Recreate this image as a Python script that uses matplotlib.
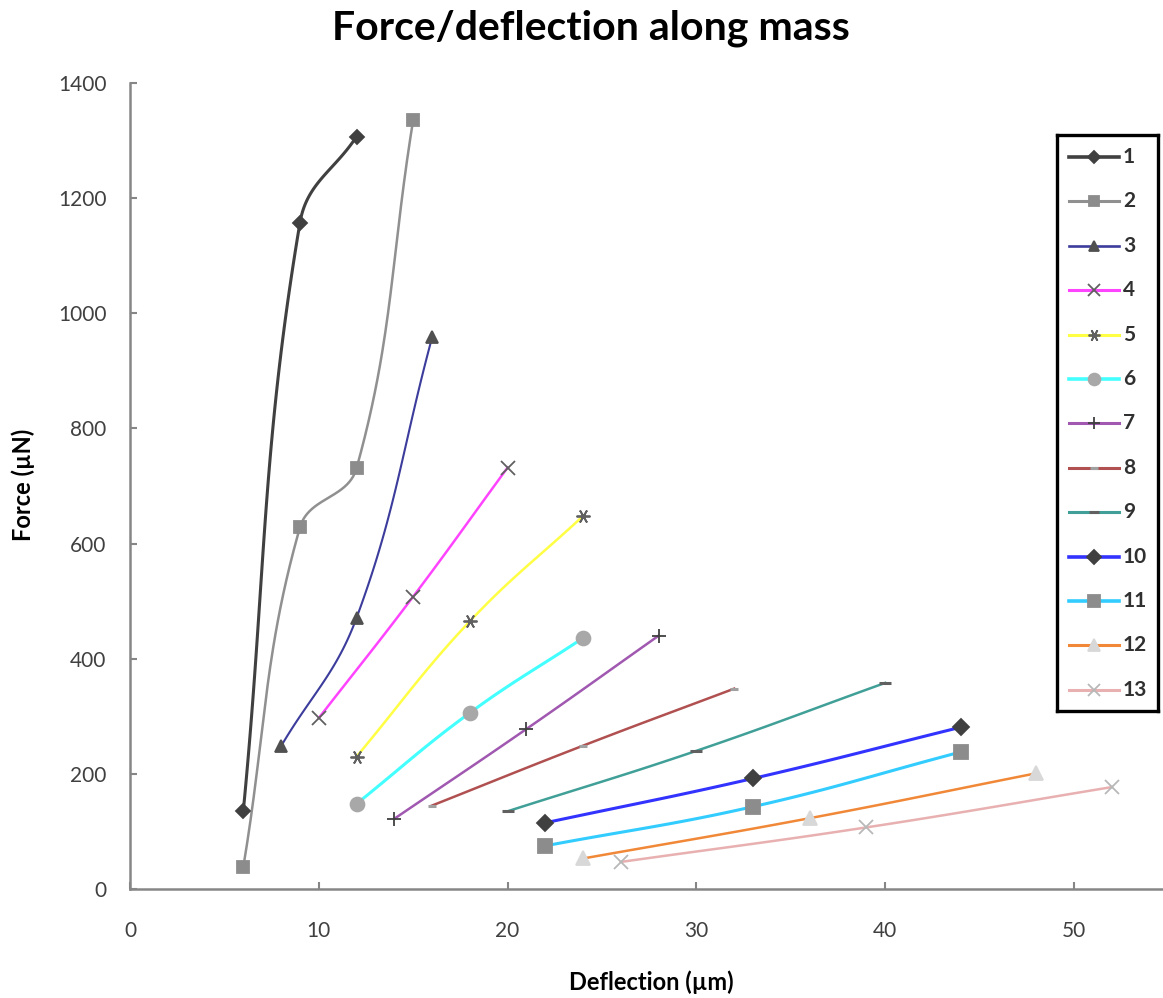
import numpy as np
import matplotlib
matplotlib.use("Agg")
import matplotlib.pyplot as plt

plt.rcParams['font.family'] = ['Lato', 'DejaVu Sans']

# Measured deflection (µm) and force (µN) for each mass position
labels = ["1", "2", "3", "4", "5", "6", "7", "8", "9", "10", "11", "12", "13"]
deflection = [
    [6, 9, 12],
    [6, 9, 12, 15],
    [8, 12, 16],
    [10, 15, 20],
    [12, 18, 24],
    [12, 18, 24],
    [14, 21, 28],
    [16, 24, 32],
    [20, 30, 40],
    [22, 33, 44],
    [22, 33, 44],
    [24, 36, 48],
    [26, 39, 52],
]
force = [
    [135, 1157, 1307],
    [38, 628, 731, 1336],
    [248, 471, 958],
    [297, 508, 732],
    [230, 465, 648],
    [148, 306, 436],
    [122, 278, 440],
    [145, 249, 348],
    [135, 240, 358],
    [115, 192, 281],
    [75, 143, 238],
    [53, 123, 201],
    [47, 107, 177],
]
line_colors = ["#404040", "#909090", "#3c3c9c", "#ff44ff", "#ffff44", "#44ffff",
               "#a058b0", "#b05050", "#40a098", "#3333ff", "#33ccff", "#f08838", "#e8b0b0"]
markers = ["D", "s", "^", "x", (6, 2, 90), "o", "+", "_", "_", "D", "s", "^", "x"]
marker_colors = ["#404040", "#8c8c8c", "#505050", "#606060", "#606060", "#a8a8a8",
                 "#404040", "#a0a0a0", "#606060", "#404040", "#8c8c8c", "#d8d8d8", "#b8b8b8"]
marker_sizes = [7, 9, 9, 10, 10, 10, 10, 6, 9, 8, 10, 10, 10]
line_widths = [2.2, 1.8, 1.5, 1.8, 1.8, 2.2, 1.8, 1.8, 1.8, 2.2, 2.2, 1.8, 1.8]

FIG_W, FIG_H = 1163, 998
AX_L, AX_B, AX_T = 130, 889, 83
PX_PER_X = 18.88
X_MAX, Y_MAX = 55, 1400
PX_PER_Y = (AX_B - AX_T) / Y_MAX


def smooth(xs, ys, n=50, k=0.4):
    """Bezier curve through the points, control arms scaled by neighbouring
    segment lengths measured on screen (spreadsheet-style smoothed line)."""
    pts = np.column_stack([np.asarray(xs) * PX_PER_X, np.asarray(ys) * PX_PER_Y]).astype(float)
    if len(pts) < 3:
        return np.asarray(xs, float), np.asarray(ys, float)
    ext = np.vstack([pts[0], pts, pts[-1]])
    out = []
    for i in range(1, len(ext) - 2):
        p0, p1, p2, p3 = ext[i - 1], ext[i], ext[i + 1], ext[i + 2]
        d01 = np.linalg.norm(p1 - p0)
        d12 = np.linalg.norm(p2 - p1)
        d23 = np.linalg.norm(p3 - p2)
        c1 = p1 + k * (p2 - p0) * d12 / (d01 + d12)
        c2 = p2 - k * (p3 - p1) * d12 / (d12 + d23)
        t = np.linspace(0, 1, n)[:, None]
        seg = ((1 - t) ** 3) * p1 + 3 * ((1 - t) ** 2) * t * c1 + 3 * (1 - t) * t ** 2 * c2 + t ** 3 * p2
        out.append(seg if i == 1 else seg[1:])
    out = np.vstack(out)
    return out[:, 0] / PX_PER_X, out[:, 1] / PX_PER_Y


fig = plt.figure(figsize=(FIG_W / 100, FIG_H / 100), dpi=100)
ax = fig.add_axes([AX_L / FIG_W, 1 - AX_B / FIG_H,
                   X_MAX * PX_PER_X / FIG_W, (AX_B - AX_T) / FIG_H])

for i, lab in enumerate(labels):
    sx, sy = smooth(deflection[i], force[i])
    ax.plot(sx, sy, color=line_colors[i], lw=line_widths[i], zorder=2)
    mew = 2.2 if markers[i] == "_" else 1.3
    ax.plot(deflection[i], force[i], linestyle="none", marker=markers[i],
            markersize=marker_sizes[i], color=marker_colors[i],
            markeredgecolor=marker_colors[i], markeredgewidth=mew, zorder=3)

ax.set_xlim(0, X_MAX)
ax.set_ylim(0, Y_MAX)
ax.set_xticks(np.arange(0, 51, 10))
ax.set_yticks(np.arange(0, 1401, 200))
for s in ["top", "right"]:
    ax.spines[s].set_visible(False)
for s in ["left", "bottom"]:
    ax.spines[s].set_color("#868686")
    ax.spines[s].set_linewidth(1.8)
ax.tick_params(direction="in", length=5, width=1.5, color="#868686",
               labelsize=15, labelcolor="#404040")
ax.tick_params(axis="y", pad=17)
ax.tick_params(axis="x", pad=23)

fig.text(651 / FIG_W, 1 - 982 / FIG_H, "Deflection (µm)", fontsize=17,
         fontweight="bold", ha="center", va="center")
fig.text(23 / FIG_W, 1 - 485 / FIG_H, "Force (µN)", fontsize=17,
         fontweight="bold", ha="center", va="center", rotation=90)
fig.text(591 / FIG_W, 1 - 28 / FIG_H, "Force/deflection along mass", fontsize=29.5,
         fontweight="bold", ha="center", va="center")

# Legend box drawn as its own small axes (pixel units inside)
lx0, lx1, ly0, ly1 = 1057, 1158, 135, 711
lax = fig.add_axes([lx0 / FIG_W, 1 - ly1 / FIG_H, (lx1 - lx0) / FIG_W, (ly1 - ly0) / FIG_H])
lax.set_xlim(0, lx1 - lx0)
lax.set_ylim(ly1 - ly0, 0)
lax.set_xticks([])
lax.set_yticks([])
for s in lax.spines.values():
    s.set_color("black")
    s.set_linewidth(2.4)
row0, row_step = 22, 44.4
for i, lab in enumerate(labels):
    yy = row0 + i * row_step
    mew = 2.2 if markers[i] == "_" else 1.3
    lax.plot([12, 62], [yy, yy], color=line_colors[i], lw=line_widths[i] + 0.4)
    lax.plot([37], [yy], linestyle="none", marker=markers[i],
             markersize=marker_sizes[i] * 0.85, color=marker_colors[i],
             markeredgecolor=marker_colors[i], markeredgewidth=mew)
    lax.text(66, yy, lab, fontsize=15, fontweight="bold", color="#303030",
             ha="left", va="center")

fig.savefig("out.png", dpi=100)
